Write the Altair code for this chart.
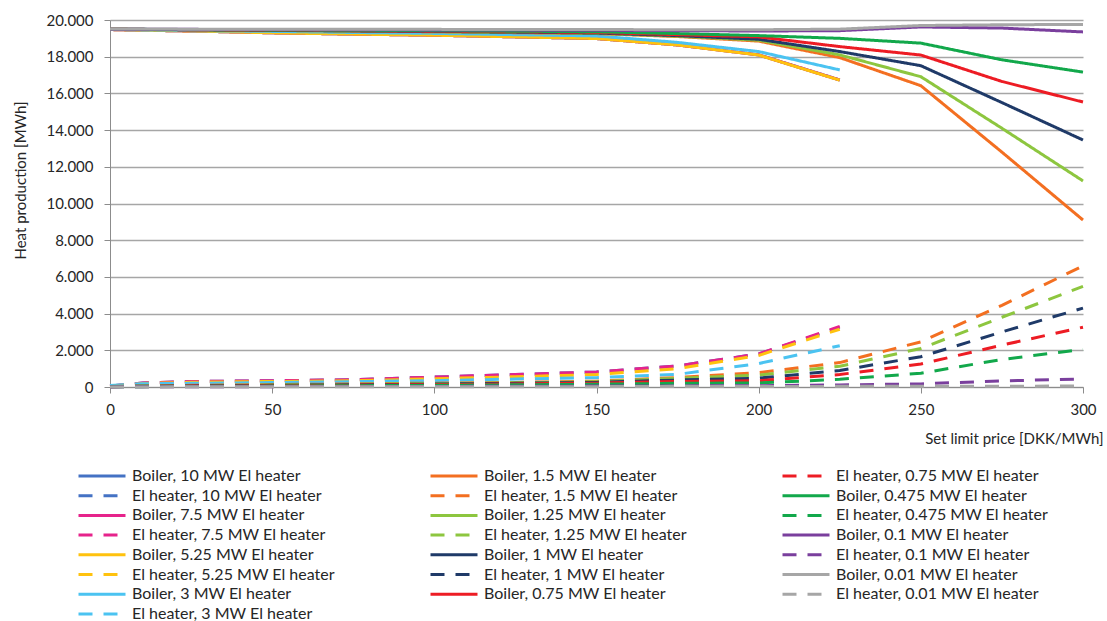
import altair as alt
import pandas as pd

# Set limit prices [DKK/MWh]
prices = [0, 10, 25, 50, 75, 100, 125, 150, 175, 200, 225, 250, 275, 300]

# Heater sizes, in plotting order
sizes = ["10", "7.5", "5.25", "3", "1.5", "1.25", "1", "0.75", "0.475", "0.1", "0.01"]

# Heat production from the boiler [MWh] per heater size
boiler = {
    "10":    [19480, 19440, 19400, 19300, 19230, 19170, 19080, 18990, 18640, 18100, 16730],
    "7.5":   [19480, 19440, 19400, 19300, 19230, 19170, 19080, 18990, 18640, 18100, 16730],
    "5.25":  [19480, 19440, 19400, 19300, 19230, 19170, 19080, 18990, 18640, 18090, 16720],
    "3":     [19490, 19460, 19420, 19380, 19320, 19270, 19200, 19130, 18780, 18280, 17280],
    "1.5":   [19500, 19480, 19460, 19430, 19400, 19360, 19310, 19260, 19100, 18850, 17950, 16420, 12800, 9100],
    "1.25":  [19500, 19480, 19460, 19430, 19400, 19360, 19320, 19270, 19120, 18900, 18100, 16910, 14100, 11230],
    "1":     [19500, 19490, 19470, 19440, 19410, 19380, 19340, 19290, 19150, 18950, 18280, 17510, 15500, 13460],
    "0.75":  [19500, 19490, 19470, 19450, 19420, 19390, 19360, 19320, 19200, 19080, 18550, 18090, 16650, 15530],
    "0.475": [19500, 19490, 19480, 19460, 19440, 19420, 19390, 19360, 19260, 19150, 19000, 18740, 17830, 17160],
    "0.1":   [19500, 19500, 19490, 19480, 19470, 19460, 19450, 19440, 19420, 19400, 19420, 19620, 19560, 19350],
    "0.01":  [19510, 19510, 19500, 19500, 19490, 19490, 19480, 19480, 19470, 19470, 19500, 19700, 19740, 19760],
}

# Heat production from the electric heater [MWh] per heater size
heater = {
    "10":    [50, 220, 300, 340, 400, 540, 680, 820, 1150, 1800, 3250],
    "7.5":   [50, 220, 300, 340, 400, 540, 680, 820, 1150, 1800, 3300],
    "5.25":  [40, 190, 260, 300, 340, 450, 560, 680, 1000, 1720, 3150],
    "3":     [80, 180, 200, 240, 290, 345, 435, 510, 690, 1280, 2250],
    "1.5":   [30, 60, 90, 130, 170, 210, 250, 320, 520, 780, 1330, 2460, 4450, 6600],
    "1.25":  [25, 50, 80, 110, 150, 190, 230, 290, 470, 650, 1130, 2100, 3800, 5480],
    "1":     [20, 40, 60, 90, 120, 160, 200, 250, 380, 480, 900, 1650, 3000, 4300],
    "0.75":  [15, 30, 50, 70, 100, 130, 170, 210, 300, 340, 680, 1250, 2280, 3260],
    "0.475": [10, 20, 30, 50, 70, 90, 120, 150, 200, 220, 420, 750, 1500, 2050],
    "0.1":   [5, 10, 15, 20, 25, 30, 40, 50, 60, 70, 110, 170, 330, 440],
    "0.01":  [2, 5, 8, 10, 12, 15, 18, 20, 25, 30, 35, 40, 45, 50],
}

colors = {
    "10": "#4472C4", "7.5": "#E6238B", "5.25": "#FFC20E", "3": "#4BC3F1",
    "1.5": "#F36F21", "1.25": "#8DC63F", "1": "#1F3A68", "0.75": "#ED1C24",
    "0.475": "#12A84B", "0.1": "#7A3F9D", "0.01": "#A6A6A6",
}

def b_name(s):
    return f"Boiler, {s} MW El heater"

def e_name(s):
    return f"El heater, {s} MW El heater"

rows = []
for s in sizes:
    for name, vals in ((b_name(s), boiler[s]), (e_name(s), heater[s])):
        for p, v in zip(prices, vals):
            rows.append({"price": p, "heat": v, "series": name})
df = pd.DataFrame(rows)

# Legend entries read down three columns; the legend grid fills row by row
col1 = [f(s) for s in ["10", "7.5", "5.25", "3"] for f in (b_name, e_name)]
col2 = [f(s) for s in ["1.5", "1.25", "1"] for f in (b_name, e_name)] + [b_name("0.75")]
col3 = [e_name("0.75")] + [f(s) for s in ["0.475", "0.1", "0.01"] for f in (b_name, e_name)]
domain = []
for i in range(len(col1)):
    for col in (col1, col2, col3):
        if i < len(col):
            domain.append(col[i])

size_of = {}
for s in sizes:
    size_of[b_name(s)] = s
    size_of[e_name(s)] = s
color_range = [colors[size_of[n]] for n in domain]
dash_range = [[1, 0] if n.startswith("Boiler") else [14, 11] for n in domain]

FONT = "Lato"
TEXT = "#262626"

legend = alt.Legend(
    title=None, orient="none", direction="horizontal", legendX=-33, legendY=448, columns=3,
    symbolType="stroke", symbolSize=2209, symbolStrokeWidth=3,
    labelFont=FONT, labelFontSize=16, labelColor=TEXT, labelLimit=0,
    labelOffset=5, rowPadding=3.7, columnPadding=84, gridAlign="all", padding=0,
    clipHeight=16,
)

chart = alt.Chart(df).mark_line(strokeWidth=3, strokeCap="butt").encode(
    x=alt.X(
        "price:Q",
        scale=alt.Scale(domain=[0, 300], nice=False, zero=False),
        axis=alt.Axis(
            values=[0, 50, 100, 150, 200, 250, 300], grid=False, labelFlush=False,
            title="Set limit price [DKK/MWh]", titleAlign="right",
            titleX=993, titleY=56, titleBaseline="alphabetic",
            titleFont=FONT, titleFontSize=15, titleFontWeight="normal", titleColor=TEXT,
            labelFont=FONT, labelFontSize=15, labelColor=TEXT, labelPadding=9,
            tickSize=6, tickColor="#8c8c8c", domainColor="#8c8c8c",
        ),
    ),
    y=alt.Y(
        "heat:Q",
        scale=alt.Scale(domain=[0, 20000], nice=False),
        axis=alt.Axis(
            values=list(range(0, 20001, 2000)), labelFlush=False,
            labelExpr="replace(format(datum.value, ','), ',', '.')",
            title="Heat production [MWh]", titleX=-90, titleY=160,
            titleAlign="center", titleBaseline="middle",
            titleFont=FONT, titleFontSize=15, titleFontWeight="normal", titleColor=TEXT,
            labelFont=FONT, labelFontSize=15, labelColor=TEXT, labelPadding=11,
            tickSize=6, tickColor="#8c8c8c", domainColor="#8c8c8c",
            gridColor="#a6a6a6", gridWidth=1.3,
        ),
    ),
    color=alt.Color("series:N", scale=alt.Scale(domain=domain, range=color_range), legend=legend),
    strokeDash=alt.StrokeDash("series:N", scale=alt.Scale(domain=domain, range=dash_range), legend=legend),
).properties(
    width=973, height=367,
    autosize=alt.AutoSizeParams(type="none"),
    padding={"left": 110, "top": 20, "right": 24, "bottom": 234},
    background="white",
).configure_view(strokeWidth=0)

chart.save("out.html", embed_options={"renderer": "svg", "actions": False})
